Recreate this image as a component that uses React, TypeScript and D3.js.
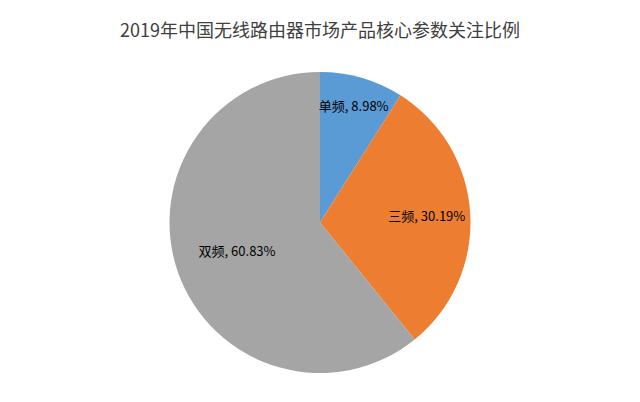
import React, { useEffect, useRef } from 'react';
import * as d3 from 'd3';

const title = '2019年中国无线路由器市场产品核心参数关注比例';
const categories = ['单频', '三频', '双频'];
const shares = [8.98, 30.19, 60.83];
const colors = ['#5B9BD5', '#ED7D31', '#A5A5A5'];

const width = 640;
const height = 402;

const App: React.FC = () => {
  const svgRef = useRef<SVGSVGElement>(null);

  useEffect(() => {
    if (!svgRef.current) return;
    const svg = d3.select(svgRef.current);
    svg.selectAll('*').remove();

    svg.append('rect').attr('width', width).attr('height', height).attr('fill', '#fff');

    svg.append('text')
      .attr('x', width / 2)
      .attr('y', 37)
      .attr('text-anchor', 'middle')
      .style('font-family', '"Noto Sans CJK SC", "Noto Sans", sans-serif')
      .style('font-size', '18px')
      .style('fill', '#404040')
      .text(title);

    const cx = 320;
    const cy = 222.5;
    const radius = 150.5;

    const data = categories.map((c, i) => ({ name: c, value: shares[i], color: colors[i] }));

    const pie = d3.pie<typeof data[number]>()
      .value(d => d.value)
      .sort(null);

    const arc = d3.arc<d3.PieArcDatum<typeof data[number]>>()
      .innerRadius(0)
      .outerRadius(radius);

    const g = svg.append('g').attr('transform', `translate(${cx},${cy})`);
    const arcs = pie(data);

    g.selectAll('path')
      .data(arcs)
      .enter()
      .append('path')
      .attr('d', arc)
      .attr('fill', d => d.data.color);

    // Excel's best-fit label placement, approximated per slice
    const labelRadius = [121, 107, 88];
    g.selectAll('text.label')
      .data(arcs)
      .enter()
      .append('text')
      .attr('class', 'label')
      .attr('transform', (d, i) => {
        const a = (d.startAngle + d.endAngle) / 2;
        const r = labelRadius[i];
        return `translate(${Math.sin(a) * r},${-Math.cos(a) * r})`;
      })
      .attr('text-anchor', 'middle')
      .attr('dy', '0.35em')
      .style('font-family', '"Noto Sans CJK SC", "Noto Sans", sans-serif')
      .style('font-size', '13px')
      .style('fill', '#000')
      .text(d => `${d.data.name}, ${d.data.value.toFixed(2)}%`);
  }, []);

  return (
    <svg
      ref={svgRef}
      width={width}
      height={height}
      style={{ position: 'absolute', left: 0, top: 0 }}
    />
  );
};

export default App;
